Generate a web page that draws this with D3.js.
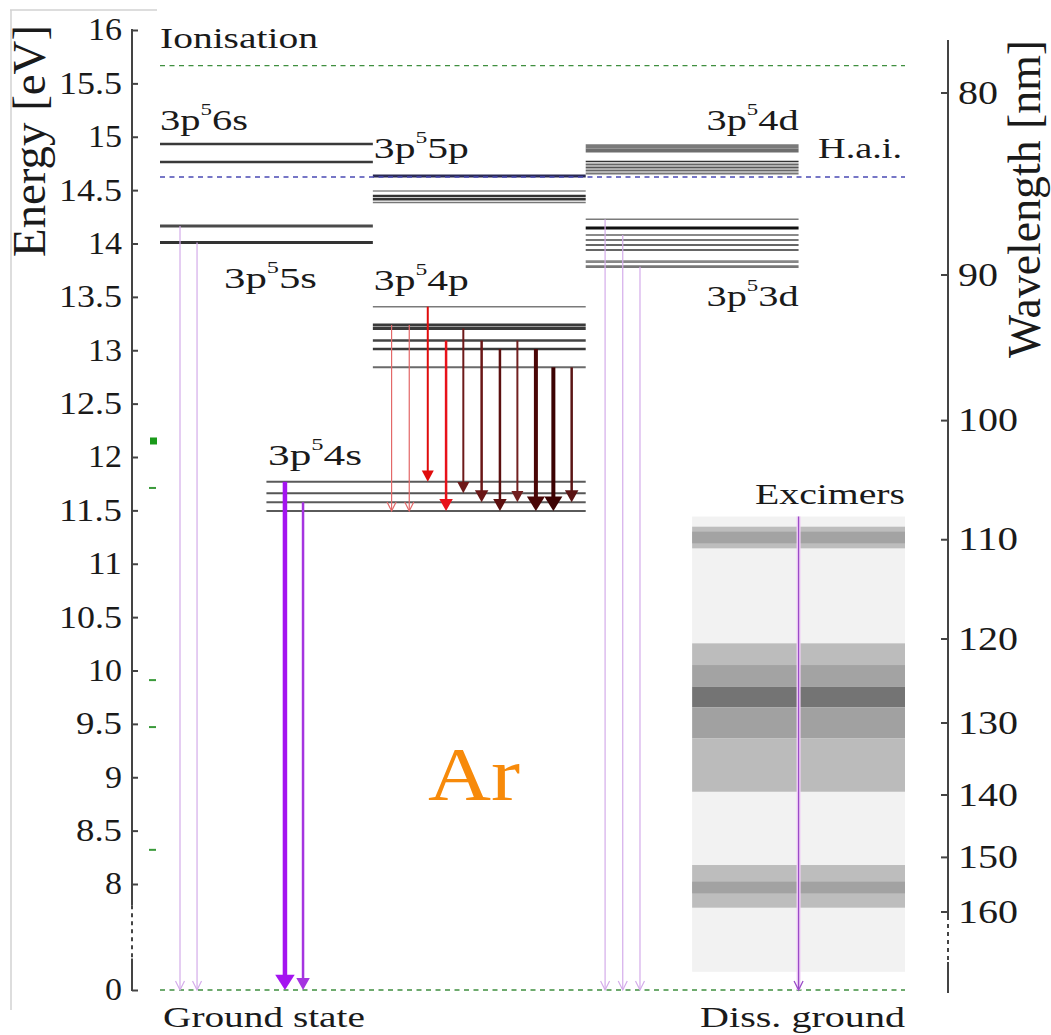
<!DOCTYPE html>
<html>
<head>
<meta charset="utf-8">
<script src="https://cdn.jsdelivr.net/npm/d3@7"></script>
<style>
  html, body { margin: 0; padding: 0; background: #fff; }
  svg { display: block; }
</style>
</head>
<body>
<svg id="chart" width="1051" height="1035"></svg>
<script>
// ---------------- data ----------------
// Energy axis ticks (eV) and wavelength axis ticks (nm)
const energyTicks = [0, 8, 8.5, 9, 9.5, 10, 10.5, 11, 11.5, 12, 12.5, 13, 13.5, 14, 14.5, 15, 15.5, 16];
const waveTicks = [80, 90, 100, 110, 120, 130, 140, 150, 160];

// Reference energies (eV)
const ionisationE = 15.666;
const haiE = 14.623;          // H.a.i.
const groundE = 0;

// Level energies of Ar by configuration (eV)
const levels6s = [14.932, 14.763];
const levels5s = [14.164, 14.009];
const levels5p = [14.632, 14.492, 14.445, 14.414, 14.384];
const levels4p = [13.408, 13.237, 13.204, 13.091, 13.012, 12.840];
const levels4s = [11.769, 11.660, 11.576, 11.494];
const levels4d = [14.909, 14.871, 14.768, 14.740, 14.712, 14.684, 14.656];
const levels3d = [14.227, 14.145, 14.080, 14.033, 13.986, 13.939, 13.830, 13.783];

// 3p54p -> 3p54s transitions: upper and lower level (eV)
const redUpper = [13.237, 13.237, 13.408, 13.091, 13.204, 13.091, 13.012, 13.091, 13.012, 12.840, 12.840];
const redLower = [11.494, 11.494, 11.769, 11.494, 11.660, 11.576, 11.494, 11.576, 11.494, 11.494, 11.576];

// Resonance transitions to the ground state: upper level (eV)
const res5sUpper = [14.164, 14.009];
const res4sUpper = [11.769, 11.576];
const res3dUpper = [14.227, 14.080, 13.783];

// Excimer emission region and bands (nm)
const excimerRange = [107.9, 172.6];
const bandStart = [108.81, 109.26, 120.48, 122.93, 125.48, 128.01, 132.00, 151.32, 154.29];
const bandEnd   = [110.80, 110.33, 122.93, 125.48, 128.01, 132.00, 139.51, 159.16, 156.43];

// Small marks beside the energy axis (eV)
const sideMarks = [12.15, 11.71, 9.91, 9.47, 8.32];

// ---------------- layout & style ----------------
const serif = "'Liberation Serif', 'Times New Roman', serif";
const ink = "#1a1a1a";
const svg = d3.select("#chart");

// Energy scale with a compressed section between 0 and 7.8 eV
const yE = d3.scaleLinear().domain([0, 7.8, 16]).range([990, 905.35, 30]);
// Wavelength scale (linear in 1/lambda)
const yInv = d3.scaleLinear().domain([1 / 160, 1 / 80]).range([912, 93]);
const yW = l => yInv(1 / l);
// Horizontal position in columns
const xC = d3.scaleLinear().domain([0, 3.5]).range([160, 905]);

const levelGroups = [
  { E: levels6s, span: [0, 1],   shade: ["#3a3a3a", "#3a3a3a"], w: [2.5, 2.5] },
  { E: levels5s, span: [0, 1],   shade: ["#4a4a4a", "#333"], w: [3, 3] },
  { E: levels5p, span: [1, 2],   shade: ["#2a2a55", "#8a8a8a", "#333", "#333", "#777"], w: [3, 1.6, 2.6, 2.6, 1.6] },
  { E: levels4p, span: [1, 2],   shade: ["#7a7a7a", "#3a3a3a", "#3a3a3a", "#444", "#3a3a3a", "#6a6a6a"], w: [1.6, 3, 3, 2.6, 2.6, 2] },
  { E: levels4s, span: [0.5, 2], shade: ["#5a5a5a", "#555", "#5a5a5a", "#5a5a5a"], w: [2, 2, 2, 2] },
  { E: levels4d, span: [2, 3],   shade: ["#7a7a7a", "#6e6e6e", "#333", "#666", "#555", "#666", "#777"], w: [4.2, 4.2, 1.6, 2, 2, 2, 2] },
  { E: levels3d, span: [2, 3],   shade: ["#7a7a7a", "#111", "#8a8a8a", "#777", "#666", "#666", "#888", "#777"], w: [1.6, 3, 2, 2, 2, 2, 2.6, 2.6] }
];

const redX = [1.088, 1.171, 1.258, 1.344, 1.425, 1.511, 1.597, 1.679, 1.766, 1.848, 1.934];
const redColor = ["#e36868", "#e36868", "#e00c0c", "#e8121a", "#6e1a1a", "#6a1616", "#5c0f0f", "#722020", "#4a0606", "#3c0202", "#5a1414"];
const redWidth = [1.2, 1.2, 2, 2.5, 2, 2.5, 2.5, 2, 4, 4, 2.5];
const redHead = ["open", "open", "fill", "fill", "fill", "fill", "fill", "fill", "fill", "fill", "fill"];

const res5sX = [0.094, 0.174];
const res4sX = [0.587, 0.672];
const res3dX = [2.091, 2.174, 2.255];
const bandShade = ["#bdbdbd", "#a3a3a3", "#bcbcbc", "#a3a3a3", "#747474", "#a1a1a1", "#bbbbbb", "#bdbdbd", "#a2a2a2"];

// ---------------- helpers ----------------
function arrow(g, x, y1, y2, color, w, head) {
  if (head === "open") {
    const hl = 9, hw = 4.5;
    g.append("line").attr("x1", x).attr("x2", x).attr("y1", y1).attr("y2", y2)
      .attr("stroke", color).attr("stroke-width", w);
    g.append("path").attr("d", `M${x - hw},${y2 - hl}L${x},${y2}L${x + hw},${y2 - hl}`)
      .attr("fill", "none").attr("stroke", color).attr("stroke-width", Math.max(w, 1.2));
  } else {
    const hl = 8 + 1.6 * w, hw = 3 + 1.5 * w;
    g.append("line").attr("x1", x).attr("x2", x).attr("y1", y1).attr("y2", y2 - hl + 1)
      .attr("stroke", color).attr("stroke-width", w);
    g.append("path").attr("d", `M${x - hw},${y2 - hl}L${x},${y2}L${x + hw},${y2 - hl}Z`)
      .attr("fill", color);
  }
}

// Text drawn at its natural size, then stretched to the given width.
// Parts are strings or {sup, size, rise} for a raised superscript.
function label(parent, parts, x, y, width, size, anchor, fill) {
  const g = parent.append("g");
  const t = g.append("text").attr("font-family", serif).attr("font-size", size)
    .attr("fill", fill || ink).attr("text-anchor", anchor || "start");
  let pending = 0;
  parts.forEach(p => {
    if (typeof p === "string") {
      const s = t.append("tspan").text(p);
      if (pending) { s.attr("dy", pending); pending = 0; }
    } else {
      t.append("tspan").attr("font-size", p.size).attr("dy", -p.rise).text(p.sup);
      pending = p.rise;
    }
  });
  const w = t.node().getComputedTextLength();
  g.attr("transform", `translate(${x},${y}) scale(${width / w},1)`);
  return g;
}
const sup5 = { sup: "5", size: 17, rise: 15 };

// ---------------- frame ----------------
svg.append("line").attr("x1", 10).attr("x2", 157).attr("y1", 10).attr("y2", 10)
  .attr("stroke", "#d2d2d2").attr("stroke-width", 1.5);
svg.append("line").attr("x1", 11).attr("x2", 11).attr("y1", 10).attr("y2", 1010)
  .attr("stroke", "#d2d2d2").attr("stroke-width", 1.5);

// ---------------- excimer region ----------------
const gEx = svg.append("g");
gEx.append("rect").attr("x", xC(2.5)).attr("width", xC(3.5) - xC(2.5))
  .attr("y", yW(excimerRange[0])).attr("height", yW(excimerRange[1]) - yW(excimerRange[0]))
  .attr("fill", "#f2f2f2");
gEx.selectAll("rect.band").data(bandStart).join("rect").attr("class", "band")
  .attr("x", xC(2.5)).attr("width", xC(3.5) - xC(2.5))
  .attr("y", d => yW(d)).attr("height", (d, i) => yW(bandEnd[i]) - yW(d))
  .attr("fill", (d, i) => bandShade[i]);

// ---------------- levels ----------------
const gLev = svg.append("g");
levelGroups.forEach(grp => {
  grp.E.forEach((e, i) => {
    gLev.append("line").attr("x1", xC(grp.span[0])).attr("x2", xC(grp.span[1]))
      .attr("y1", yE(e)).attr("y2", yE(e))
      .attr("stroke", grp.shade[i]).attr("stroke-width", grp.w[i]);
  });
});

// ---------------- reference lines ----------------
const gRef = svg.append("g").attr("fill", "none").attr("stroke-dasharray", "5,4.5");
gRef.append("line").attr("x1", xC(0)).attr("x2", xC(3.5)).attr("y1", yE(ionisationE)).attr("y2", yE(ionisationE))
  .attr("stroke", "#3f8f3f").attr("stroke-width", 1.4);
gRef.append("line").attr("x1", xC(0)).attr("x2", xC(3.5)).attr("y1", yE(haiE)).attr("y2", yE(haiE))
  .attr("stroke", "#4a4ab4").attr("stroke-width", 1.6);
gRef.append("line").attr("x1", xC(0)).attr("x2", xC(3.5)).attr("y1", yE(groundE)).attr("y2", yE(groundE))
  .attr("stroke", "#3f8f3f").attr("stroke-width", 1.4);

// ---------------- transitions ----------------
const gTr = svg.append("g");
res5sUpper.forEach((e, i) => arrow(gTr, xC(res5sX[i]), yE(e), yE(groundE), "#d4acea", 1.2, "open"));
res3dUpper.forEach((e, i) => arrow(gTr, xC(res3dX[i]), yE(e), yE(groundE), "#d4acea", 1.2, "open"));
arrow(gTr, xC(res4sX[0]), yE(res4sUpper[0]), yE(groundE), "#a414f0", 4.5, "fill");
arrow(gTr, xC(res4sX[1]), yE(res4sUpper[1]), yE(groundE), "#a534e0", 2.5, "fill");
redUpper.forEach((e, i) => arrow(gTr, xC(redX[i]), yE(e), yE(redLower[i]), redColor[i], redWidth[i], redHead[i]));
// excimer dissociation
gTr.append("line").attr("x1", xC(3)).attr("x2", xC(3)).attr("y1", yW(excimerRange[0])).attr("y2", yE(groundE))
  .attr("stroke", "#f1d2f7").attr("stroke-width", 4);
arrow(gTr, xC(3), yW(excimerRange[0]), yE(groundE), "#9a4cc8", 1.3, "open");

// side marks
svg.selectAll("rect.mark").data(sideMarks).join("rect").attr("class", "mark")
  .attr("x", (d, i) => i === 0 ? 150 : 149).attr("width", 7)
  .attr("y", (d, i) => yE(d) - (i === 0 ? 3.5 : 1)).attr("height", (d, i) => i === 0 ? 7 : 2)
  .attr("fill", (d, i) => i === 0 ? "#1a9a1a" : "#3a9a3a");

// ---------------- left axis ----------------
const digitW = s => Array.from(s).reduce((a, c) => a + (c === "." ? 12 : 17), 0);
const gL = svg.append("g").attr("transform", "translate(132,0)")
  .call(d3.axisLeft(yE).tickValues(energyTicks).tickSizeInner(-6).tickSizeOuter(0)
    .tickPadding(10).tickFormat(d3.format("")));
gL.select(".domain").remove();
gL.attr("font-family", serif).attr("font-size", 31);
gL.selectAll(".tick line").attr("stroke", "#444").attr("stroke-width", 2);
gL.selectAll(".tick text").attr("fill", ink)
  .attr("textLength", d => digitW(d3.format("")(d))).attr("lengthAdjust", "spacingAndGlyphs");
// axis line with a dotted break
gL.append("line").attr("x1", 0).attr("x2", 0).attr("y1", yE(16) - 1).attr("y2", yE(7.8))
  .attr("stroke", "#444").attr("stroke-width", 2);
gL.append("line").attr("x1", 0).attr("x2", 0).attr("y1", yE(7.8)).attr("y2", yE(2.9))
  .attr("stroke", "#444").attr("stroke-width", 2).attr("stroke-dasharray", "4,4");
gL.append("line").attr("x1", 0).attr("x2", 0).attr("y1", yE(2.9)).attr("y2", yE(0) + 1)
  .attr("stroke", "#444").attr("stroke-width", 2);

// ---------------- right axis ----------------
const gR = svg.append("g").attr("transform", "translate(948,0)");
gR.append("line").attr("x1", 0).attr("x2", 0).attr("y1", 40).attr("y2", yW(160.8))
  .attr("stroke", "#444").attr("stroke-width", 2);
gR.append("line").attr("x1", 0).attr("x2", 0).attr("y1", yW(160.8)).attr("y2", 962)
  .attr("stroke", "#444").attr("stroke-width", 2).attr("stroke-dasharray", "4,4");
gR.append("line").attr("x1", 0).attr("x2", 0).attr("y1", 962).attr("y2", 993)
  .attr("stroke", "#444").attr("stroke-width", 2);
gR.selectAll("line.tk").data(waveTicks).join("line").attr("class", "tk")
  .attr("x1", 0).attr("x2", -7).attr("y1", d => yW(d)).attr("y2", d => yW(d))
  .attr("stroke", "#444").attr("stroke-width", 2);
gR.selectAll("text.tl").data(waveTicks).join("text").attr("class", "tl")
  .attr("x", 10).attr("y", d => yW(d)).attr("dy", "0.32em")
  .attr("font-family", serif).attr("font-size", 33).attr("fill", ink)
  .attr("textLength", d => String(d).length * 20).attr("lengthAdjust", "spacingAndGlyphs")
  .text(d => d);

// ---------------- axis titles ----------------
svg.append("g").attr("transform", "translate(45,141) scale(1.3,1) rotate(-90)")
  .append("text").attr("text-anchor", "middle").attr("font-family", serif).attr("font-size", 36)
  .attr("fill", ink).attr("textLength", 232).attr("lengthAdjust", "spacingAndGlyphs")
  .text("Energy [eV]");
svg.append("g").attr("transform", "translate(1040,199) scale(1.2,1) rotate(-90)")
  .append("text").attr("text-anchor", "middle").attr("font-family", serif).attr("font-size", 38)
  .attr("fill", ink).attr("textLength", 318).attr("lengthAdjust", "spacingAndGlyphs")
  .text("Wavelength [nm]");

// ---------------- labels ----------------
const gT = svg.append("g");
label(gT, ["Ionisation"], xC(0), 48, 158, 30);
label(gT, ["3p", sup5, "6s"], xC(0), 130, 88, 30);
label(gT, ["3p", sup5, "5s"], 224, 288, 93, 30);
label(gT, ["3p", sup5, "5p"], xC(1) + 1, 158, 95, 30);
label(gT, ["3p", sup5, "4p"], xC(1) + 1, 290, 95, 30);
label(gT, ["3p", sup5, "4s"], 268, 465, 94, 30);
label(gT, ["3p", sup5, "4d"], xC(3), 130, 92, 30, "end");
label(gT, ["3p", sup5, "3d"], xC(3), 306, 92, 30, "end");
label(gT, ["H.a.i."], 902, 158, 84, 30, "end");
label(gT, ["Excimers"], xC(3.5), 504, 150, 30, "end");
label(gT, ["Ground state"], 163, 1027, 202, 30);
label(gT, ["Diss. ground"], xC(3.5), 1027, 205, 30, "end");
label(gT, ["Ar"], 474, 800, 92, 76, "middle", "#f78a0a");
</script>
</body>
</html>
